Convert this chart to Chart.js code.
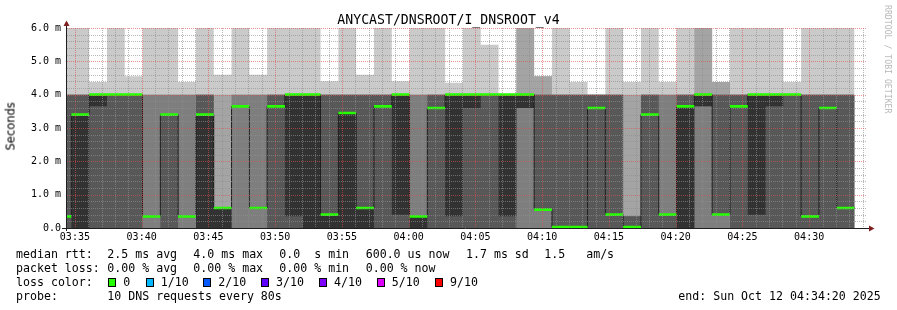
<!DOCTYPE html>
<html><head><meta charset="utf-8">
<script src="https://cdn.jsdelivr.net/npm/chart.js@4.4.1/dist/chart.umd.min.js"></script>
<style>
html,body{margin:0;padding:0;background:#fff;}
#wrap{position:relative;width:897px;height:310px;overflow:hidden;font-family:"DejaVu Sans Mono",monospace;color:#000;background:#fff;}
canvas{position:absolute;left:0;top:0;}
.t{position:absolute;white-space:pre;font-size:11.6px;line-height:14px;}
.box{position:absolute;width:8px;height:9px;box-sizing:border-box;border:1px solid #000;top:278px;}
#title{position:absolute;left:0;top:13px;width:897px;text-align:center;font-size:13.2px;line-height:13px;white-space:pre;}
#ylab{position:absolute;left:0;top:0;font-family:"DejaVu Sans",sans-serif;font-size:11.5px;line-height:12px;white-space:pre;color:#000;font-weight:normal;transform-origin:0 0;transform:translate(4.5px,150.5px) rotate(-90deg);}
#wm{position:absolute;left:0;top:0;font-size:8.2px;line-height:8px;white-space:pre;color:rgba(0,0,0,0.3);transform-origin:0 0;transform:translate(892px,5px) rotate(90deg);}
</style></head>
<body>
<div id="wrap">
<canvas id="c" width="897" height="310"></canvas>
<div id="title">ANYCAST/DNSROOT/I_DNSROOT_v4</div>
<div id="ylab">Seconds</div>
<div id="wm">RRDTOOL / TOBI OETIKER</div>

<div class="t" style="left:16px;top:246.7px">median rtt:</div>
<div class="t" style="left:107.3px;top:246.7px">2.5 ms avg</div>
<div class="t" style="left:193.3px;top:246.7px">4.0 ms max</div>
<div class="t" style="left:279.3px;top:246.7px">0.0  s min</div>
<div class="t" style="left:365.7px;top:246.7px">600.0 us now</div>
<div class="t" style="left:466px;top:246.7px">1.7 ms sd</div>
<div class="t" style="left:544.3px;top:246.7px">1.5   am/s</div>

<div class="t" style="left:16px;top:260.7px">packet loss:</div>
<div class="t" style="left:107.3px;top:260.7px">0.00 % avg</div>
<div class="t" style="left:193.3px;top:260.7px">0.00 % max</div>
<div class="t" style="left:279.3px;top:260.7px">0.00 % min</div>
<div class="t" style="left:365.7px;top:260.7px">0.00 % now</div>

<div class="t" style="left:16px;top:274.7px">loss color:</div>
<div class="box" style="left:108.3px;background:#26ff00"></div><div class="t" style="left:123.3px;top:274.7px">0</div>
<div class="box" style="left:145.7px;background:#00b8ff"></div><div class="t" style="left:160.7px;top:274.7px">1/10</div>
<div class="box" style="left:203.3px;background:#0059ff"></div><div class="t" style="left:218.3px;top:274.7px">2/10</div>
<div class="box" style="left:261px;background:#5e00ff"></div><div class="t" style="left:276px;top:274.7px">3/10</div>
<div class="box" style="left:319px;background:#7e00ff"></div><div class="t" style="left:334px;top:274.7px">4/10</div>
<div class="box" style="left:376.7px;background:#dd00ff"></div><div class="t" style="left:391.7px;top:274.7px">5/10</div>
<div class="box" style="left:435px;background:#ff0000"></div><div class="t" style="left:450px;top:274.7px">9/10</div>

<div class="t" style="left:16px;top:288.7px">probe:</div>
<div class="t" style="left:107.3px;top:288.7px">10 DNS requests every 80s</div>
<div class="t" style="left:678.3px;top:288.7px">end: Sun Oct 12 04:34:20 2025</div>
</div>
<script>
// ---- data (ms), one value per 80 s step, sorted pings p1..p10 ----
const STEP = 80;          // seconds per step
const FIRST_START = -56;  // start of first (partial) step, seconds from graph start (03:34:20)
const RANGE = 3600;

const p1  = [0,0,0,0,0,0,0,0,0,0,0,0,0,0,0,0,0,0,0,0,0,0,0,0,0,0,0,0,0,0,0,0,0,0,0,0,0,0,0,0,0,0,0,0,0];
const p2  = [0,0,0,0,0,0,0,0,0,0,0,0,0,0,0,0,0,0,0,0,0,0,0,0,0,0,0,0,0,0,0,0,0,0,0,0,0,0,0,0,0,0,0,0,0];
const p3  = [0,0,0,0,0,0,0,0,0,0,0,0,0,0,0,0,0,0,0,0,0,0,0,0,0,0,0,0,0,0,0,0,0,0,0,0,0,0,0,0,0,0,0,0,0];
const p4  = [0,0,0,0,0,0.35,0,0.35,0,0,3.65,0.6,0,0,0,0,0,0,0,0,0,0,0,0,0,0,3.6,0.55,0,0,0,0,0,0,0,0,3.65,0.4,0,0,0,0,0,0,0];
const p5  = [0.35,0,3.65,4,4,0.35,3.4,0.35,0,0,3.65,0.6,3.65,0.35,0,0,0,0,3.65,0.4,0,3.6,0.35,3.6,4,0.35,3.6,0.55,0.03,0.03,3.6,0.4,0,3.4,0.4,0,3.65,0.4,3.65,0.4,3.65,4,0.35,3.6,0.6];
const p6  = [0.35,3.4,4,4,4,0.35,3.4,0.35,3.4,0.6,3.65,0.6,3.65,4,4,0.4,3.45,0.6,3.65,4,0.35,3.6,4,4,4,4,4,0.55,0.03,0.03,3.6,0.4,0.03,3.4,0.4,3.65,4,0.4,3.65,4,4,4,0.35,3.6,0.6];
const p7  = [4,4,4,4,4,0.35,3.4,0.35,4,0.6,3.65,0.6,4,4,4,4,4,4,4,4,0.35,4,4,4,4,4,4,4,4,4,4,4,0.35,4,0.4,4,4,4,4,4,4,4,4,4,4];
const p8  = [4,4,4,4,4,4,4,4,4,0.6,4,4,4,4,4,4,4,4,4,4,4,4,4,4,4,4,4,4,4,4,4,4,0.35,4,4,4,4,4,4,4,4,4,4,4,4];
const p9  = [4,4,4,4,4,4,4,4,4,4,4,4,4,4,4,4,4,4,4,4,4,4,4,4,4,4,6.5,4.55,4,4,4,4,4,4,4,4,6.5,4.38,4,4,4,4,4,4,4];
const p10 = [6.5,6.5,4.38,6.5,4.55,6.5,6.5,4.38,6.5,4.6,6.5,4.6,6.5,6.5,6.5,4.4,6.5,4.6,6.5,4.4,6.5,6.5,4.36,6.5,5.5,4.0,6.5,4.55,6.5,4.38,4.0,6.5,4.38,6.5,4.38,6.5,6.5,4.38,6.5,6.5,6.5,4.38,6.5,6.5,6.5];
const median = [0.35,3.4,4,4,4,0.35,3.4,0.35,3.4,0.6,3.65,0.6,3.65,4,4,0.4,3.45,0.6,3.65,4,0.35,3.6,4,4,4,4,4,0.55,0.03,0.03,3.6,0.4,0.03,3.4,0.4,3.65,4,0.4,3.65,4,4,4,0.35,3.6,0.6];

const yTickLabels = ['0.0','1.0 m','2.0 m','3.0 m','4.0 m','5.0 m','6.0 m'];
const xTickLabels = ['03:35','03:40','03:45','03:50','03:55','04:00','04:05','04:10','04:15','04:20','04:25','04:30'];
const FIRST_LABEL_T = 40; // 03:35:00 relative to 03:34:20

// ---- styles ----
const bandColors = ['#cacaca','#a4a4a4','#7e7e7e','#585858','#323232'];
const MAJOR = 'rgba(222,79,79,0.6)';
const MINOR = 'rgba(143,143,143,0.65)';
const GREEN = '#26ff00';
const GREEN_HALF = 0.04;

function pts(arr){
  const out = arr.map((v,j)=>({x: FIRST_START + STEP*j, y: v}));
  out.push({x: FIRST_START + STEP*arr.length, y: arr[arr.length-1]});
  return out;
}
const base = {type:'line', stepped:true, pointRadius:0, borderWidth:0, borderColor:'transparent', tension:0, fill:false, clip:0};
const pings = [p1,p2,p3,p4,p5,p6,p7,p8,p9,p10];
const datasets = [];
for (let i=0;i<5;i++){
  datasets.push(Object.assign({}, base, {data: pts(pings[i]), order: 50-10*i}));
  datasets.push(Object.assign({}, base, {data: pts(pings[9-i]), order: 50-10*i, fill:'-1', backgroundColor: bandColors[i]}));
}
datasets.push(Object.assign({}, base, {data: pts(median), order: 5, borderWidth:1, borderColor:'#1f1f1f'}));
datasets.push(Object.assign({}, base, {data: pts(median.map(m=>m-GREEN_HALF)), order: 2}));
datasets.push(Object.assign({}, base, {data: pts(median.map(m=>m+GREEN_HALF)), order: 2, fill:'-1', backgroundColor: GREEN}));

// dotted rrdtool-style grid drawn over the data, placed through the chart's scales
const gridPlugin = {
  id:'dottedGrid',
  afterDatasetsDraw(chart){
    const {ctx, chartArea:a, scales:{x, y}} = chart;
    ctx.save();
    ctx.lineWidth = 1;
    ctx.setLineDash([1,1]);
    for (let t=FIRST_LABEL_T; t<RANGE; t+=60){
      const px = Math.round(x.getPixelForValue(t)) + 0.5;
      ctx.strokeStyle = ((t-FIRST_LABEL_T)%300===0) ? MAJOR : MINOR;
      ctx.beginPath(); ctx.moveTo(px, a.top); ctx.lineTo(px, a.bottom); ctx.stroke();
    }
    for (let k=1;k<=30;k++){
      const py = Math.round(y.getPixelForValue(k/5)) + 0.5;
      ctx.strokeStyle = (k%5===0) ? MAJOR : MINOR;
      ctx.beginPath(); ctx.moveTo(a.left+1, py); ctx.lineTo(a.right, py); ctx.stroke();
    }
    ctx.restore();
  }
};

const axesPlugin = {
  id:'axes',
  afterDraw(chart){
    const {ctx, chartArea:a} = chart;
    ctx.save();
    ctx.strokeStyle = '#1f1f1f'; ctx.lineWidth = 1;
    ctx.beginPath();
    ctx.moveTo(62, a.bottom+0.5); ctx.lineTo(a.right+2, a.bottom+0.5);
    ctx.moveTo(a.left+0.5, a.bottom+3); ctx.lineTo(a.left+0.5, a.top-3);
    ctx.stroke();
    ctx.fillStyle = 'rgb(128,31,31)';
    ctx.beginPath();
    ctx.moveTo(a.left+0.5, a.top-7.5); ctx.lineTo(a.left-2.5, a.top-2); ctx.lineTo(a.left+3.5, a.top-2); ctx.closePath(); ctx.fill();
    ctx.beginPath();
    ctx.moveTo(a.right+7.5, a.bottom+0.5); ctx.lineTo(a.right+2, a.bottom-2.5); ctx.lineTo(a.right+2, a.bottom+3.5); ctx.closePath(); ctx.fill();
    ctx.restore();
  }
};

Chart.defaults.font.family = 'DejaVu Sans Mono';
new Chart(document.getElementById('c'), {
  type:'line',
  data:{datasets},
  options:{
    responsive:false, animation:false, devicePixelRatio:1, events:[],
    layout:{padding:{left:0,right:30,top:28,bottom:62}},
    plugins:{legend:{display:false}, tooltip:{enabled:false}, title:{display:false}},
    scales:{
      x:{
        type:'linear', min:0, max:RANGE,
        afterBuildTicks:s=>{ const t=[]; for(let v=FIRST_LABEL_T; v<RANGE; v+=60) t.push({value:v}); s.ticks=t; },
        afterFit:s=>{ s.height=20; },
        grid:{display:false, drawTicks:false},
        border:{display:false},
        ticks:{autoSkip:false, maxRotation:0, minRotation:0, padding:3, color:'#000', font:{family:'DejaVu Sans Mono', size:10},
          callback:v=> ((v-FIRST_LABEL_T)%300===0) ? xTickLabels[(v-FIRST_LABEL_T)/300] : ''}
      },
      y:{
        type:'linear', min:0, max:6,
        afterBuildTicks:s=>{ const t=[]; for(let k=0;k<=30;k++) t.push({value:k/5}); s.ticks=t; },
        afterFit:s=>{ s.width=66; },
        grid:{display:false, drawTicks:false},
        border:{display:false},
        ticks:{autoSkip:false, padding:5, color:'#000', font:{family:'DejaVu Sans Mono', size:10},
          callback:v=>{ const r=Math.round(v); return Math.abs(v-r)<1e-6 ? yTickLabels[r] : ''; }}
      }
    }
  },
  plugins:[gridPlugin, axesPlugin]
});
</script>
</body></html>
